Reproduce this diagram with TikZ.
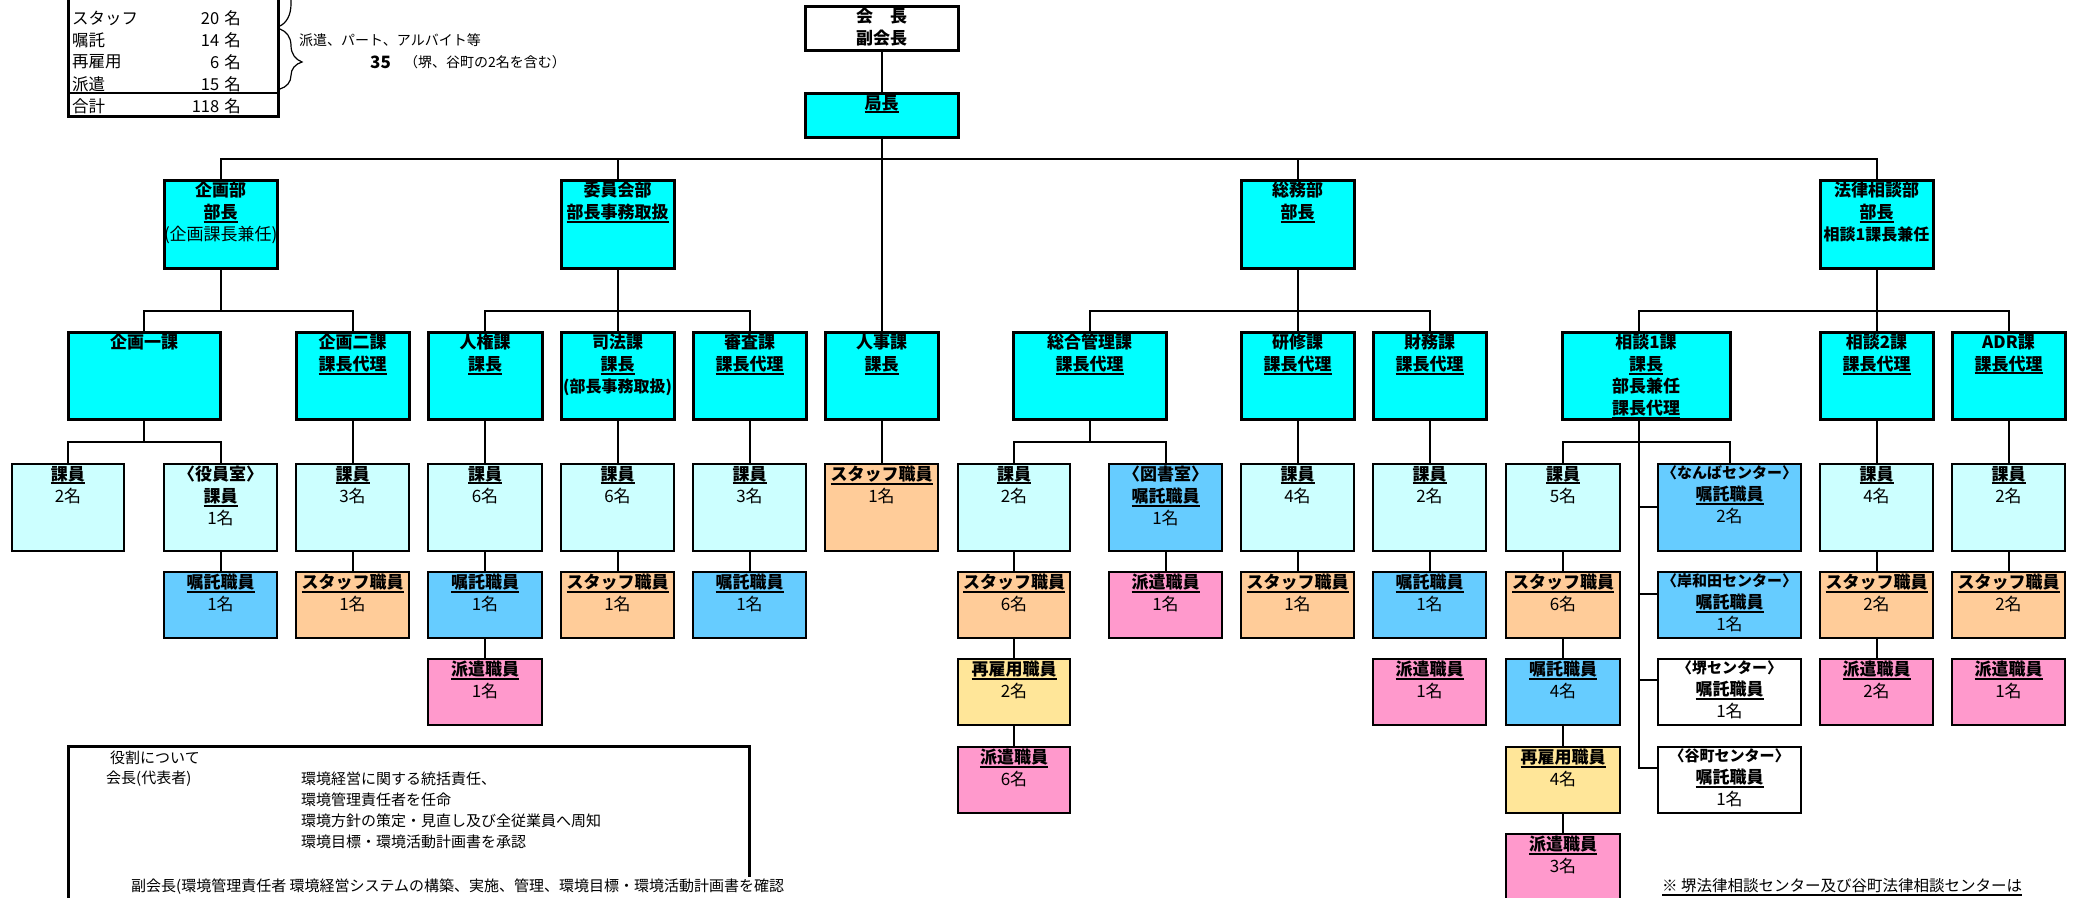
\documentclass[tikz,border=0pt]{standalone}
\usepackage{fontspec}
\setmainfont{Noto Sans CJK JP}
\usetikzlibrary{decorations.pathreplacing}

\newcommand{\ulbox}[1]{\leavevmode\setbox0=\hbox{#1}\rlap{\rule[-4pt]{\wd0}{1.6pt}}\box0}

\definecolor{headcyan}{HTML}{00FFFF}
\definecolor{kaiincyan}{HTML}{CCFFFF}
\definecolor{shokublue}{HTML}{66CCFF}
\definecolor{staffpeach}{HTML}{FFCC99}
\definecolor{hakenpink}{HTML}{FF99CC}
\definecolor{saikoyellow}{HTML}{FFE699}

\begin{document}
\begin{tikzpicture}[x=1pt, y=-1pt,
    unit/.style 2 args={draw, inner sep=0pt, outer sep=0pt, anchor=north west,
        execute at begin node={\begin{minipage}[t][#2pt][t]{#1pt}\centering
            \fontsize{17}{22}\selectfont\bfseries\vspace{2pt}},
        execute at end node={\end{minipage}}},
    head/.style={line width=3pt, fill=headcyan},
    chief/.style={line width=3pt, fill=white},
    kaiin/.style={line width=2pt, fill=kaiincyan},
    shoku/.style={line width=2pt, fill=shokublue},
    staff/.style={line width=2pt, fill=staffpeach},
    haken/.style={line width=2pt, fill=hakenpink},
    saiko/.style={line width=2pt, fill=saikoyellow},
    branch/.style={line width=2pt, fill=white},
    link/.style={line width=2pt},
    tabtext/.style={inner sep=0pt, font=\fontsize{16.5}{19}\selectfont},
    note/.style={inner sep=0pt, anchor=west, font=\fontsize{15}{18}\selectfont}]

    \useasboundingbox (0,0) rectangle (2075,897);

    % staff totals
    \draw[line width=3pt] (68,-10) -- (68,116) -- (278,116) -- (278,-10);
    \draw[line width=1.5pt] (68,93) -- (278,93);
    \foreach \lab/\num/\yy [count=\i] in {スタッフ/20/18, 嘱託/14/40, 再雇用/6/62, 派遣/15/84, 合計/118/106} {
        \node[tabtext, anchor=west] (lab\i) at (72,\yy) {\lab};
        \node[tabtext, anchor=east] (num\i) at (241,\yy) {\num\hspace{5pt}名};
    }
    \draw[line width=1.2pt, decorate, decoration={brace, amplitude=22pt}] (280,-70) -- (280,26);
    \draw[line width=1.2pt, decorate, decoration={brace, amplitude=22pt, aspect=0.55}] (280,29) -- (280,89);
    \node[note, font=\fontsize{14}{17}\selectfont] (parttext) at (299,40) {派遣、パート、アルバイト等};
    \node[note, font=\fontsize{17}{20}\selectfont\bfseries] (parttotal) at (370,62) {35};
    \node[note, font=\fontsize{14}{17}\selectfont] (partnote) at (404,62) {（堺、谷町の2名を含む）};

    % top
    \node[unit={153}{44}, chief] (kaicho) at (805,6) {会　長\\副会長};
    \node[unit={153}{44}, head] (kyokucho) at (805,93) {\ulbox{局長}};

    % departments
    \node[unit={113}{88}, head] (kikakubu) at (164,180) {企画部\\\ulbox{部長}\\\mdseries (企画課長兼任)};
    \node[unit={113}{88}, head] (iinkaibu) at (561,180) {委員会部\\\ulbox{部長事務取扱}};
    \node[unit={113}{88}, head] (somubu) at (1241,180) {総務部\\\ulbox{部長}};
    \node[unit={113}{88}, head] (horitsubu) at (1820,180) {法律相談部\\\ulbox{部長}\\\fontsize{16}{22}\selectfont 相談1課長兼任};

    % sections
    \node[unit={152}{87}, head] (kikaku1) at (68,332) {企画一課};
    \node[unit={113}{87}, head] (kikaku2) at (296,332) {企画二課\\\ulbox{課長代理}};
    \node[unit={114}{87}, head] (jinken) at (428,332) {人権課\\\ulbox{課長}};
    \node[unit={113}{87}, head] (shiho) at (561,332) {司法課\\\ulbox{課長}\\\fontsize{16}{22}\selectfont (部長事務取扱)};
    \node[unit={113}{87}, head] (shinsa) at (693,332) {審査課\\\ulbox{課長代理}};
    \node[unit={113}{87}, head] (jinji) at (825,332) {人事課\\\ulbox{課長}};
    \node[unit={153}{87}, head] (sogo) at (1013,332) {総合管理課\\\ulbox{課長代理}};
    \node[unit={113}{87}, head] (kenshu) at (1241,332) {研修課\\\ulbox{課長代理}};
    \node[unit={113}{87}, head] (zaimu) at (1373,332) {財務課\\\ulbox{課長代理}};
    \node[unit={168}{87}, head] (sodan1) at (1562,332) {相談1課\\\ulbox{課長}\\部長兼任\\\ulbox{課長代理}};
    \node[unit={113}{87}, head] (sodan2) at (1820,332) {相談2課\\\ulbox{課長代理}};
    \node[unit={113}{87}, head] (adr) at (1952,332) {ADR課\\\ulbox{課長代理}};

    % staff, first row
    \node[unit={112}{87}, kaiin] (k1a) at (12,464) {\ulbox{課員}\\\mdseries 2名};
    \node[unit={113}{87}, kaiin] (k1b) at (164,464) {〈役員室〉\\\ulbox{課員}\\\mdseries 1名};
    \node[unit={113}{87}, kaiin] (k2a) at (296,464) {\ulbox{課員}\\\mdseries 3名};
    \node[unit={114}{87}, kaiin] (jka) at (428,464) {\ulbox{課員}\\\mdseries 6名};
    \node[unit={113}{87}, kaiin] (sha) at (561,464) {\ulbox{課員}\\\mdseries 6名};
    \node[unit={113}{87}, kaiin] (ssa) at (693,464) {\ulbox{課員}\\\mdseries 3名};
    \node[unit={113}{87}, staff] (jja) at (825,464) {\ulbox{スタッフ職員}\\\mdseries 1名};
    \node[unit={112}{87}, kaiin] (sga) at (958,464) {\ulbox{課員}\\\mdseries 2名};
    \node[unit={113}{87}, shoku] (sgb) at (1109,464) {〈図書室〉\\\ulbox{嘱託職員}\\\mdseries 1名};
    \node[unit={113}{87}, kaiin] (ksa) at (1241,464) {\ulbox{課員}\\\mdseries 4名};
    \node[unit={113}{87}, kaiin] (zma) at (1373,464) {\ulbox{課員}\\\mdseries 2名};
    \node[unit={114}{87}, kaiin] (s1a) at (1506,464) {\ulbox{課員}\\\mdseries 5名};
    \node[unit={143}{87}, shoku] (namba) at (1658,464) {{\fontsize{15}{22}\selectfont 〈なんばセンター〉}\\\ulbox{嘱託職員}\\\mdseries 2名};
    \node[unit={113}{87}, kaiin] (s2a) at (1820,464) {\ulbox{課員}\\\mdseries 4名};
    \node[unit={113}{87}, kaiin] (ada) at (1952,464) {\ulbox{課員}\\\mdseries 2名};

    % staff, second row
    \node[unit={113}{66}, shoku] (k1c) at (164,572) {\ulbox{嘱託職員}\\\mdseries 1名};
    \node[unit={113}{66}, staff] (k2b) at (296,572) {\ulbox{スタッフ職員}\\\mdseries 1名};
    \node[unit={114}{66}, shoku] (jkb) at (428,572) {\ulbox{嘱託職員}\\\mdseries 1名};
    \node[unit={113}{66}, staff] (shb) at (561,572) {\ulbox{スタッフ職員}\\\mdseries 1名};
    \node[unit={113}{66}, shoku] (ssb) at (693,572) {\ulbox{嘱託職員}\\\mdseries 1名};
    \node[unit={112}{66}, staff] (sgc) at (958,572) {\ulbox{スタッフ職員}\\\mdseries 6名};
    \node[unit={113}{66}, haken] (sgd) at (1109,572) {\ulbox{派遣職員}\\\mdseries 1名};
    \node[unit={113}{66}, staff] (ksb) at (1241,572) {\ulbox{スタッフ職員}\\\mdseries 1名};
    \node[unit={113}{66}, shoku] (zmb) at (1373,572) {\ulbox{嘱託職員}\\\mdseries 1名};
    \node[unit={114}{66}, staff] (s1b) at (1506,572) {\ulbox{スタッフ職員}\\\mdseries 6名};
    \node[unit={143}{66}, shoku] (kishiwada) at (1658,572) {{\fontsize{15}{22}\selectfont 〈岸和田センター〉}\\\ulbox{嘱託職員}\\\mdseries 1名};
    \node[unit={113}{66}, staff] (s2b) at (1820,572) {\ulbox{スタッフ職員}\\\mdseries 2名};
    \node[unit={113}{66}, staff] (adb) at (1952,572) {\ulbox{スタッフ職員}\\\mdseries 2名};

    % staff, lower rows
    \node[unit={114}{66}, haken] (jkc) at (428,659) {\ulbox{派遣職員}\\\mdseries 1名};
    \node[unit={112}{66}, saiko] (sge) at (958,659) {\ulbox{再雇用職員}\\\mdseries 2名};
    \node[unit={113}{66}, haken] (zmc) at (1373,659) {\ulbox{派遣職員}\\\mdseries 1名};
    \node[unit={114}{66}, shoku] (s1c) at (1506,659) {\ulbox{嘱託職員}\\\mdseries 4名};
    \node[unit={143}{66}, branch] (sakai) at (1658,659) {{\fontsize{15}{22}\selectfont 〈堺センター〉}\\\ulbox{嘱託職員}\\\mdseries 1名};
    \node[unit={113}{66}, haken] (s2c) at (1820,659) {\ulbox{派遣職員}\\\mdseries 2名};
    \node[unit={113}{66}, haken] (adc) at (1952,659) {\ulbox{派遣職員}\\\mdseries 1名};
    \node[unit={112}{66}, haken] (sgf) at (958,747) {\ulbox{派遣職員}\\\mdseries 6名};
    \node[unit={114}{66}, saiko] (s1d) at (1506,747) {\ulbox{再雇用職員}\\\mdseries 4名};
    \node[unit={143}{66}, branch] (tanimachi) at (1658,747) {{\fontsize{15}{22}\selectfont 〈谷町センター〉}\\\ulbox{嘱託職員}\\\mdseries 1名};
    \node[unit={114}{66}, haken] (s1e) at (1506,834) {\ulbox{派遣職員}\\\mdseries 3名};

    % lines
    \coordinate (bus) at (882,159);
    \coordinate (secbus) at (0,311);
    \coordinate (subbus) at (0,442);
    \coordinate (s1root) at ([xshift=-7pt]sodan1.north);
    \coordinate (s1stem) at ([xshift=-7pt]sodan1.south);

    \draw[link] (kaicho) -- (kyokucho);
    \draw[link] (kyokucho) -- (jinji);
    \draw[link] (kikakubu.north) |- (bus) -| (horitsubu.north);
    \draw[link] (iinkaibu.north) -- (iinkaibu.north |- bus);
    \draw[link] (somubu.north) -- (somubu.north |- bus);

    \draw[link] (kikaku1.north) |- (kikakubu.south |- secbus) -| (kikaku2.north);
    \draw[link] (kikakubu.south) -- (kikakubu.south |- secbus);
    \draw[link] (jinken.north) |- (iinkaibu.south |- secbus) -| (shinsa.north);
    \draw[link] (iinkaibu) -- (shiho);
    \draw[link] (sogo.north) |- (somubu.south |- secbus) -| (zaimu.north);
    \draw[link] (somubu) -- (kenshu);
    \draw[link] (s1root) |- (horitsubu.south |- secbus) -| (adr.north);
    \draw[link] (horitsubu) -- (sodan2);

    \draw[link] (k1a.north) |- (kikaku1.south |- subbus) -| (k1b.north);
    \draw[link] (kikaku1.south) -- (kikaku1.south |- subbus);
    \draw[link] (sga.north) |- (sogo.south |- subbus) -| (sgb.north);
    \draw[link] (sogo.south) -- (sogo.south |- subbus);
    \draw[link] (s1a.north) |- (s1stem |- subbus) -| (namba.north);
    \foreach \c/\dy in {namba/-43pt, kishiwada/-22pt, sakai/-21pt, tanimachi/-21pt}
        \draw[link] ([yshift=\dy]\c.north west) -| (s1stem);

    \foreach \a/\b in {kikaku2/k2a, jinken/jka, shiho/sha, shinsa/ssa, jinji/jja,
        kenshu/ksa, zaimu/zma, sodan2/s2a, adr/ada, k1b/k1c, k2a/k2b, jka/jkb,
        sha/shb, ssa/ssb, sga/sgc, sgb/sgd, ksa/ksb, zma/zmb, s1a/s1b, s2a/s2b,
        ada/adb, jkb/jkc, sgc/sge, s1b/s1c, s2b/s2c, sge/sgf, s1c/s1d, s1d/s1e}
        \draw[link] (\a) -- (\b);

    % roles
    \draw[line width=3pt] (68,910) -- (68,746) -- (749,746) -- (749,877);
    \node[note] (roles) at (110,758) {役割について};
    \node[note] (rolechief) at (106,779) {会長(代表者)};
    \node[note] (role1) at (301,779) {環境経営に関する統括責任、};
    \node[note] (role2) at (301,800) {環境管理責任者を任命};
    \node[note] (role3) at (301,821) {環境方針の策定・見直し及び全従業員へ周知};
    \node[note] (role4) at (301,842) {環境目標・環境活動計画書を承認};
    \node[note] (role5) at (131,887) {副会長(環境管理責任者 環境経営システムの構築、実施、管理、環境目標・環境活動計画書を確認};
    \node[note, font=\fontsize{15.5}{18}\selectfont] (centernote) at (1662,887) {\ulbox{※ 堺法律相談センター及び谷町法律相談センターは}};
\end{tikzpicture}
\end{document}
